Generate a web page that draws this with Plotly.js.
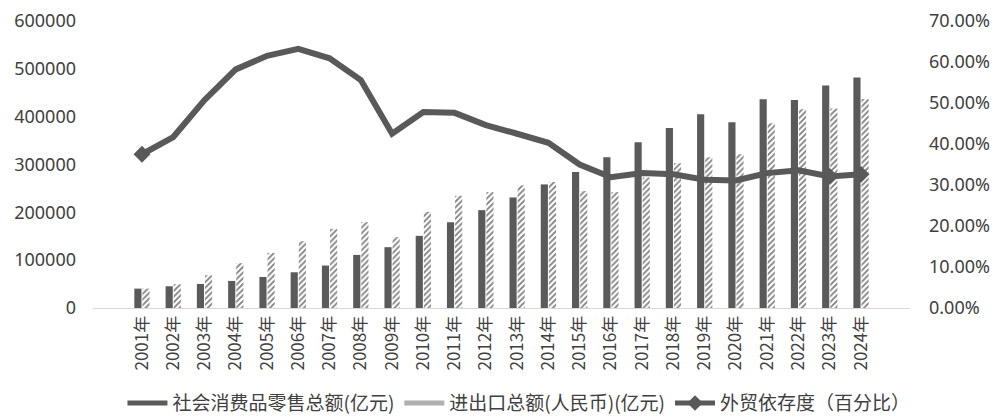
<!DOCTYPE html>
<html>
<head>
<meta charset="utf-8">
<script src="https://cdn.plot.ly/plotly-3.0.1.min.js"></script>
<style>html,body{margin:0;padding:0;background:#fff;}#chart{width:998px;height:420px;}</style>
</head>
<body>
<div id="chart"></div>
<script>
const years = ["2001年","2002年","2003年","2004年","2005年","2006年","2007年","2008年","2009年","2010年","2011年","2012年","2013年","2014年","2015年","2016年","2017年","2018年","2019年","2020年","2021年","2022年","2023年","2024年"];
const retail = [40500,45400,50300,56600,64900,74700,88700,111000,127100,150800,179500,204600,231100,258400,284200,314900,346400,376400,405000,388300,436500,435000,465100,481800];
const trade = [40500,49600,68400,93600,115200,139700,165500,179500,148000,201100,234600,242300,256300,263300,244400,242300,273000,302400,315000,321200,386200,415500,416900,437100];
const dependence = [37.5,41.7,50.7,58.2,61.5,63.2,60.9,55.6,42.5,47.8,47.6,44.6,42.5,40.3,35.0,31.9,32.9,32.6,31.3,31.1,32.9,33.6,32.1,32.6];
const markerYears = ["2001年","2023年","2024年"];
const seriesNames = ["社会消费品零售总额(亿元)", "进出口总额(人民币)(亿元)", "外贸依存度（百分比）"];

const fontFam = "'Noto Sans', 'Noto Sans CJK SC', sans-serif";
const textColor = "#404040";

const traces = [
  {
    type: "bar", name: seriesNames[0], x: years, y: retail, showlegend: false,
    marker: {color: "#5a5a5a"}, yaxis: "y"
  },
  {
    type: "bar", name: seriesNames[1], x: years, y: trade, showlegend: false,
    marker: {color: "#ffffff", pattern: {shape: "/", fgcolor: "#7f7f7f", bgcolor: "#ffffff", size: 4, solidity: 0.45}},
    yaxis: "y"
  },
  // legend-only entries drawn as wide blocks, like the reference legend keys
  {
    type: "scatter", mode: "lines", name: seriesNames[0], x: [null], y: [null],
    line: {color: "#5a5a5a", width: 14}, hoverinfo: "skip"
  },
  {
    type: "scatter", mode: "lines", name: seriesNames[1], x: [null], y: [null],
    line: {color: "#b0b0b0", width: 14}, hoverinfo: "skip"
  },
  {
    type: "scatter", mode: "lines+markers", name: seriesNames[2], x: years,
    y: dependence.map(v => v / 100), yaxis: "y2",
    line: {color: "#595959", width: 6},
    marker: {symbol: "diamond", color: "#595959", opacity: 1, line: {width: 0, color: "#595959"},
      size: years.map(y => markerYears.includes(y) ? 13 : 1)}
  }
];

const layout = {
  width: 998, height: 420,
  margin: {l: 93, r: 88, t: 21, b: 112},
  paper_bgcolor: "#ffffff", plot_bgcolor: "#ffffff",
  barmode: "group", bargap: 0.48, bargroupgap: 0.12,
  showlegend: true,
  legend: {orientation: "h", x: 0.52, xanchor: "center", xref: "container",
    y: 0.04, yanchor: "middle", yref: "container", itemsizing: "constant", itemwidth: 40,
    font: {family: "'Noto Sans CJK SC', sans-serif", size: 19, color: textColor}, traceorder: "normal"},
  font: {family: fontFam, color: textColor},
  xaxis: {
    type: "category", tickangle: -90, showgrid: false, zeroline: false, automargin: false,
    showline: true, linecolor: "#d9d9d9", linewidth: 1, ticks: "",
    tickfont: {family: "'Noto Sans CJK SC', sans-serif", size: 17, color: textColor}
  },
  yaxis: {
    range: [0, 600000], dtick: 100000, showgrid: false, zeroline: false, showline: false, automargin: false,
    tickformat: "d", tickfont: {family: fontFam, size: 18, color: textColor}, ticklabelstandoff: 16
  },
  yaxis2: {
    overlaying: "y", side: "right", range: [0, 0.7], dtick: 0.1, tickformat: ".2%", automargin: false,
    showgrid: false, zeroline: false, showline: false,
    tickfont: {family: fontFam, size: 18, color: textColor}, ticklabelstandoff: 18
  }
};

Plotly.newPlot("chart", traces, layout, {displayModeBar: false, staticPlot: true});
</script>
</body>
</html>
